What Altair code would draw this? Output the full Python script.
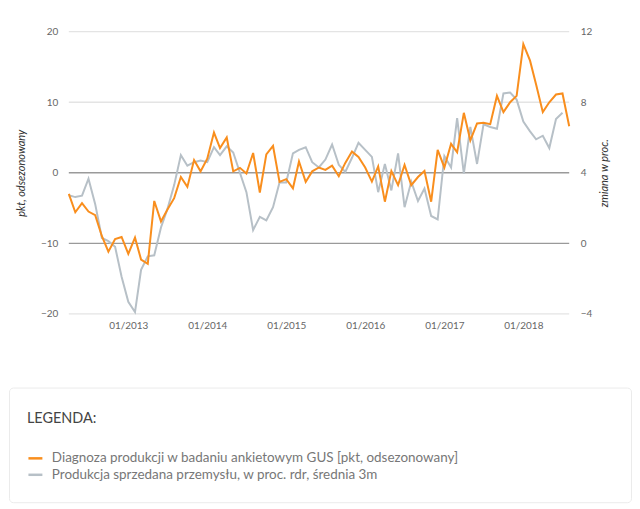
import altair as alt
import pandas as pd

# monthly observations, April 2012 onward
start_month = "2012-04-01"

# Diagnoza produkcji (left axis, pkt) 2012-04 .. 2018-08
orange_vals = [
    -3.0, -5.6, -4.3, -5.5, -6.0, -9.0, -11.2, -9.4, -9.1, -11.5,
    -9.2, -12.3, -12.9, -4.0, -6.9, -5.2, -3.6, -0.6, -2.0, 1.8,
    0.2, 2.0, 5.7, 3.5, 5.0, 0.2, 0.7, -0.1, 2.8, -2.8,
    2.6, 3.8, -1.3, -0.9, -2.2, 1.6, -1.3, 0.2, 0.75, 0.4,
    1.0, -0.5, 1.4, 3.0, 2.25, 0.75, -1.25, 0.9, -4.1, 0.25,
    -1.75, 1.1, -1.75, -0.6, 0.25, -4.1, 3.25, 0.75, 4.1, 2.9,
    8.5, 4.6, 7.0, 7.1, 6.9, 10.9, 8.6, 10.0, 10.9, 18.25,
    15.9, 12.5, 8.6, 10.0, 11.1, 11.25, 6.6,
]

# Produkcja sprzedana przemyslu (right axis, %) 2012-04 .. 2018-07
gray_vals = [
    2.72, 2.62, 2.7, 3.66, 2.22, 0.3, 0.12, -0.2, -1.9, -3.32,
    -3.9, -1.5, -0.74, -0.68, 0.9, 1.95, 3.3, 5.0, 4.4, 4.6,
    4.7, 4.6, 5.45, 5.0, 5.5, 5.15, 4.0, 2.9, 0.75, 1.5,
    1.3, 2.05, 3.45, 3.45, 5.1, 5.3, 5.45, 4.6, 4.3, 4.75,
    5.6, 4.45, 4.05, 4.85, 5.7, 5.3, 4.9, 2.9, 4.5, 3.0,
    5.1, 2.05, 3.5, 2.4, 3.1, 1.55, 1.35, 4.95, 4.3, 7.1,
    3.95, 6.6, 4.5, 6.75, 6.6, 6.5, 8.5, 8.55, 8.15, 6.9,
    6.35, 5.9, 6.1, 5.4, 7.05, 7.4,
]

series_names = [
    "Diagnoza produkcji w badaniu ankietowym GUS [pkt, odsezonowany]",
    "Produkcja sprzedana przemysłu, w proc. rdr, średnia 3m",
]
series_colors = ["#f98e1d", "#b7c0c7"]

left_ticks = [-20, -10, 0, 10, 20]
right_ticks = [-4, 0, 4, 8, 12]

dates_o = pd.date_range(start_month, periods=len(orange_vals), freq="MS")
dates_g = pd.date_range(start_month, periods=len(gray_vals), freq="MS")

df_o = pd.DataFrame({"date": dates_o.strftime("%Y-%m-%dT00:00:00"), "v": orange_vals})
df_g = pd.DataFrame({"date": dates_g.strftime("%Y-%m-%dT00:00:00"), "v": gray_vals})
grid_df = pd.DataFrame({"v": left_ticks})
legend_df = pd.DataFrame({"series": series_names})

d_start = alt.DateTime(year=2012, month=4, date=1)
d_end = alt.DateTime(year=2018, month=8, date=1)

PLOT_W = 562   # view width; data occupy the part right of the left axis
AXIS_X = 60    # where the left axis sits inside the view

x_scale = alt.Scale(domain=[d_start, d_end], nice=False, range=[AXIS_X, PLOT_W])

x_enc = alt.X(
    "date:T",
    title=None,
    scale=x_scale,
    axis=alt.Axis(
        values=[alt.DateTime(year=y, month=1, date=1) for y in range(2013, 2019)],
        format="%m/%Y", grid=False, domain=False, ticks=False,
        labelPadding=7, labelFontSize=10, labelColor="#666",
    ),
)

grid_rules = alt.Chart(grid_df).mark_rule(strokeWidth=1.3).encode(
    x=alt.X(datum=d_start, type="temporal", scale=x_scale),
    x2=alt.X2(datum=d_end),
    y=alt.Y("v:Q", scale=alt.Scale(domain=[-20, 20], nice=False, zero=False), axis=None),
    color=alt.condition("datum.v == 0 || datum.v == -10",
                        alt.value("#9a9a9a"), alt.value("#e4e4e4")),
)

gray_line = alt.Chart(df_g).mark_line(color=series_colors[1], strokeWidth=2).encode(
    x=x_enc,
    y=alt.Y(
        "v:Q",
        scale=alt.Scale(domain=[-4, 12], nice=False, zero=False),
        axis=alt.Axis(
            orient="right", values=right_ticks, title="zmiana w proc.",
            titleAngle=270, titleFontStyle="italic", titleFontWeight="normal",
            titleFontSize=11, titleColor="#333", titlePadding=18,
            grid=False, domain=False, ticks=False,
            labelPadding=11, labelFontSize=10, labelColor="#666",
        ),
    ),
)

orange_line = alt.Chart(df_o).mark_line(color=series_colors[0], strokeWidth=2).encode(
    x=x_enc,
    y=alt.Y(
        "v:Q",
        scale=alt.Scale(domain=[-20, 20], nice=False, zero=False),
        axis=alt.Axis(
            orient="left", offset=-AXIS_X, values=left_ticks, title="pkt, odsezonowany",
            titleFontStyle="italic", titleFontWeight="normal",
            titleFontSize=11, titleColor="#333", titlePadding=14,
            grid=False, domain=False, ticks=False,
            labelPadding=11, labelFontSize=10, labelColor="#666",
        ),
    ),
)

main = alt.layer(grid_rules, gray_line, orange_line).resolve_scale(
    y="independent"
).properties(width=PLOT_W, height=283)

legend_panel = alt.Chart(legend_df).mark_point(opacity=0, size=1).encode(
    color=alt.Color(
        "series:N",
        scale=alt.Scale(domain=series_names, range=series_colors),
        legend=alt.Legend(
            orient="none", legendX=18, legendY=25,
            title="LEGENDA:", titleFontSize=14.5, titleFontWeight="normal",
            titleColor="#444", titlePadding=23,
            labelFontSize=13.5, labelColor="#777", labelLimit=700, labelOffset=8,
            symbolType="stroke", symbolSize=196, symbolStrokeWidth=2.5,
            symbolOpacity=1, rowPadding=1.5, padding=0,
        ),
    )
).properties(
    width=624, height=115,
    view=alt.ViewBackground(stroke="#ebebeb", strokeWidth=1, cornerRadius=4),
)

chart = alt.vconcat(main, legend_panel, spacing=56).resolve_scale(
    color="independent"
).resolve_legend(color="independent").properties(
    padding={"left": 0, "top": 18, "right": 0, "bottom": 0}
).configure(font="Lato").configure_view(strokeWidth=0)

chart.save("out.html", embed_options={"renderer": "svg", "actions": False})
